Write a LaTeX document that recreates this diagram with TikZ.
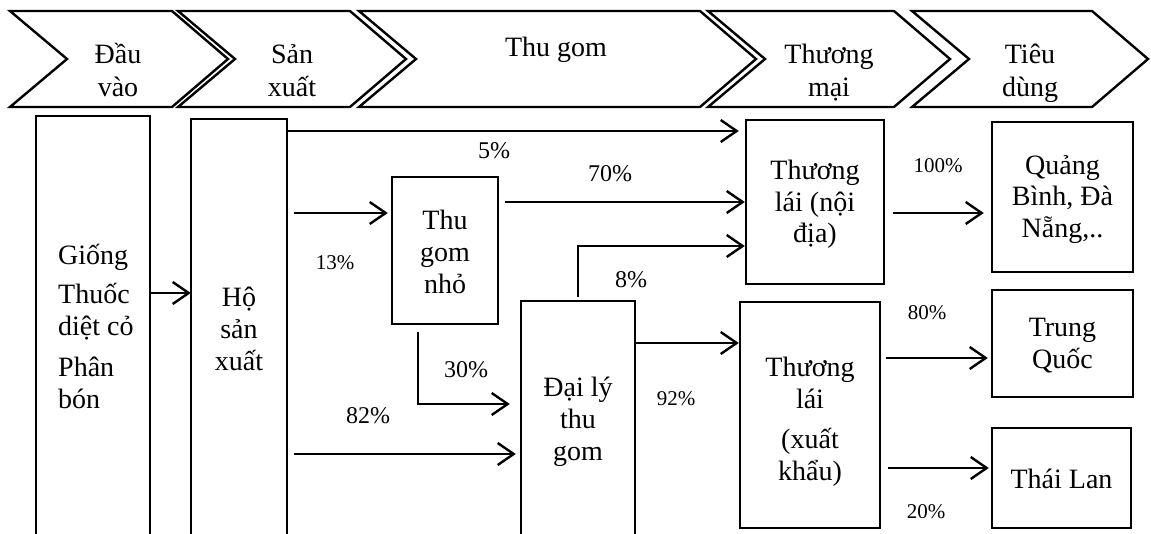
\documentclass[tikz,border=0pt]{standalone}
\usepackage{fontspec}
\setmainfont{Liberation Serif}
\usetikzlibrary{arrows.meta}

\begin{document}
\begin{tikzpicture}[
      x=0.5pt, y=-0.5pt, line width=1.2pt,
      stage/.style = {draw=black, line join=miter},
      stagetext/.style = {
        inner sep=0pt, anchor=base, align=center,
        font=\fontsize{14}{16.5}\selectfont
      },
      box/.style = {rectangle, draw=black, inner sep=0pt},
      openbox/.style = {box, draw=none},
      boxtext/.style = {
        inner sep=0pt, anchor=base, align=center,
        font=\fontsize{14}{16}\selectfont
      },
      flow/.style = {-{Straight Barb[length=8pt, width=11pt]}},
      pct/.style = {inner sep=0pt, anchor=base, font=\fontsize{12}{14}\selectfont},
      pctsmall/.style = {pct, font=\fontsize{10.5}{12}\selectfont}
    ]

    \path[fill=white] (0,0) rectangle (1151,534);
    \useasboundingbox (0,0) rectangle (1151,534);

    \draw[stage] (10,11)  -- (172,11)  -- (228,59)  -- (172,107)  -- (10,107)  -- (67,59)  -- cycle;
    \draw[stage] (178,11) -- (350,11)  -- (406,59)  -- (350,107)  -- (178,107) -- (235,59) -- cycle;
    \draw[stage] (359,11) -- (700,11)  -- (756,59)  -- (700,107)  -- (359,107) -- (416,59) -- cycle;
    \draw[stage] (708,11) -- (894,11)  -- (950,59)  -- (894,107)  -- (708,107) -- (765,59) -- cycle;
    \draw[stage] (912,11) -- (1092,11) -- (1148,59) -- (1092,107) -- (912,107) -- (969,59) -- cycle;

    \node[stagetext] (dauvao)    at ( 118,97) {Đầu\\vào};
    \node[stagetext] (sanxuat)   at ( 292,97) {Sản\\xuất};
    \node[stagetext] (thugom)    at ( 556,57) {Thu gom};
    \node[stagetext] (thuongmai) at ( 829,97) {Thương\\mại};
    \node[stagetext] (tieudung)  at (1030,97) {Tiêu\\dùng};

    \node[openbox, minimum width=56pt,   minimum height=208.5pt] (giong)      at (93,325.5)    {};
    \node[openbox, minimum width=47pt,   minimum height=207pt]   (hosx)       at (239,327)     {};
    \node[box,     minimum width=53pt,   minimum height=73.5pt]  (thugomnho)  at (445,250.5)   {};
    \node[openbox, minimum width=56pt,   minimum height=116pt]   (daily)      at (578,418)     {};
    \node[box,     minimum width=69pt,   minimum height=82pt]    (tlnoidia)   at (815,202)     {};
    \node[box,     minimum width=70pt,   minimum height=113pt]   (tlxuatkhau) at (810,415)     {};
    \node[box,     minimum width=70.5pt, minimum height=75pt]    (quangbinh)  at (1062.5,197)  {};
    \node[box,     minimum width=70.5pt, minimum height=53.5pt]  (trungquoc)  at (1062.5,343.5) {};
    \node[box,     minimum width=69.5pt, minimum height=50pt]    (thailan)    at (1061.5,478)  {};

    \draw (giong.south west) -- (giong.north west) -- (giong.north east) -- (giong.south east);
    \draw (hosx.south west)  -- (hosx.north west)  -- (hosx.north east)  -- (hosx.south east);
    \draw (daily.south west) -- (daily.north west) -- (daily.north east) -- (daily.south east);

    \node[boxtext, anchor=base west, align=left] (giongtext) at (57,408)
      {Giống\\[4pt]Thuốc\\diệt cỏ\\[4pt]Phân\\bón};
    \node[boxtext] (hosxtext)       at (239,370)    {Hộ\\sản\\xuất};
    \node[boxtext] (thugomnhotext)  at (445,293)    {Thu\\gom\\nhỏ};
    \node[boxtext] (dailytext)      at (578,460)    {Đại lý\\thu\\gom};
    \node[boxtext] (tlnoidiatext)   at (815,243)    {Thương\\lái (nội\\địa)};
    \node[boxtext] (tlxuatkhautext) at (810,480)    {Thương\\lái\\[4pt](xuất\\khẩu)};
    \node[boxtext] (quangbinhtext)  at (1062.5,238) {Quảng\\Bình, Đà\\Nẵng,..};
    \node[boxtext] (trungquoctext)  at (1062.5,368) {Trung\\Quốc};
    \node[boxtext] (thailantext)    at (1061.5,488) {Thái Lan};

    \draw[flow] (giong.east |- 0,293) -- (hosx.west |- 0,293);
    \draw[flow, shorten >=3pt] (hosx.east |- 0,131) -- (tlnoidia.west |- 0,131);
    \draw[flow, shorten <=3.5pt, shorten >=1.5pt] (hosx.east |- 0,213) -- (thugomnho.west |- 0,213);
    \draw[flow, shorten <=3pt] (thugomnho.east |- 0,202) -- (tlnoidia.west |- 0,202);
    \draw[flow, shorten <=2pt] (daily.north) |- (tlnoidia.west |- 0,246);
    \draw[flow, shorten <=3.5pt, shorten >=5.5pt] (thugomnho.south -| 418,0) |- (daily.west |- 0,404);
    \draw[flow, shorten <=3.5pt, shorten >=2.5pt] (hosx.east |- 0,454) -- (daily.west |- 0,454);
    \draw[flow] (daily.east |- 0,343) -- (tlxuatkhau.west |- 0,343);
    \draw[flow, shorten <=4pt, shorten >=3.5pt] (tlnoidia.east |- 0,213) -- (quangbinh.west |- 0,213);
    \draw[flow, shorten <=2.5pt, shorten >=1.5pt] (tlxuatkhau.east |- 0,358) -- (trungquoc.west |- 0,358);
    \draw[flow, shorten <=3.5pt, shorten >=1pt] (tlxuatkhau.east |- 0,468) -- (thailan.west |- 0,468);

    \node[pct]      (p5)   at (494,159) {5\%};
    \node[pctsmall] (p13)  at (335,270) {13\%};
    \node[pct]      (p70)  at (610,182) {70\%};
    \node[pct]      (p8)   at (631,287) {8\%};
    \node[pctsmall] (p100) at (938,173) {100\%};
    \node[pct]      (p30)  at (466,377) {30\%};
    \node[pct]      (p82)  at (368,423) {82\%};
    \node[pctsmall] (p92)  at (676,405) {92\%};
    \node[pctsmall] (p80)  at (927,320) {80\%};
    \node[pctsmall] (p20)  at (926,518) {20\%};

  \end{tikzpicture}
\end{document}
